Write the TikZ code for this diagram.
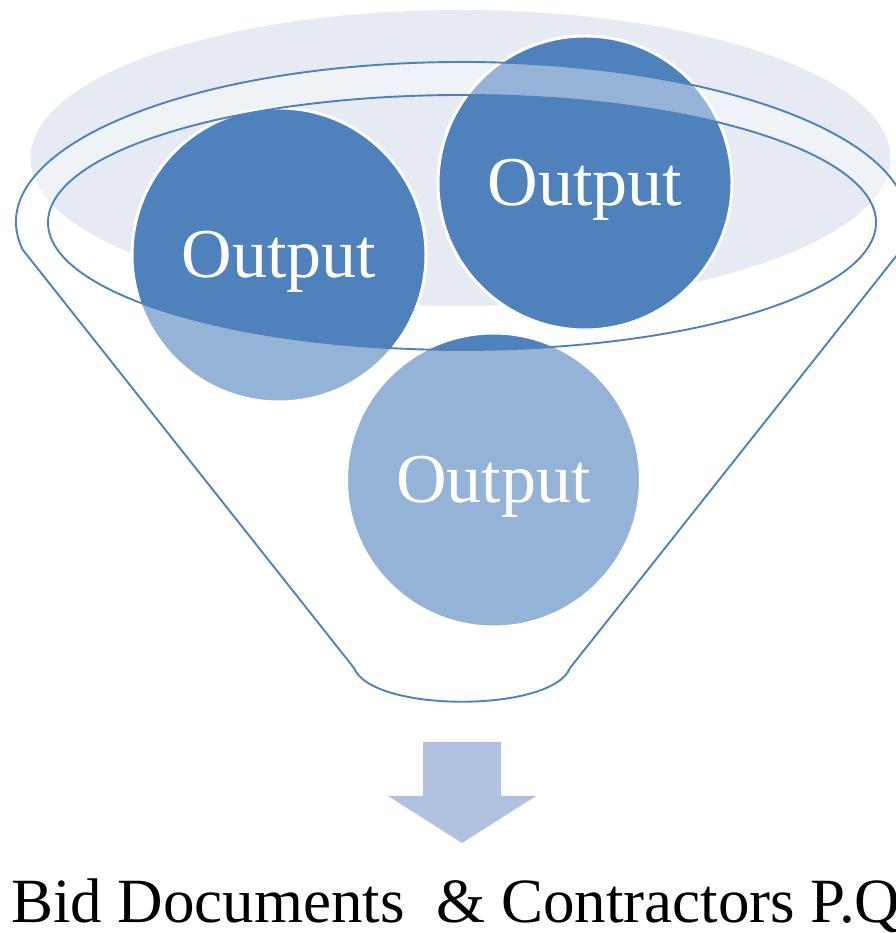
\documentclass[tikz,border=0pt]{standalone}
\usepackage{fontspec}
\setmainfont{Liberation Serif}
\usepackage{tikz}

\definecolor{funnelblue}{HTML}{4F81BD}
\definecolor{rimgray}{HTML}{E5EAF3}
\definecolor{arrowblue}{HTML}{B0C2DF}

\tikzset{
  ball/.style={circle, fill=funnelblue, draw=white, line width=3pt,
    minimum size=294pt, inner sep=0pt, text=white,
    font=\fontsize{70}{84}\selectfont, text height=45pt, text depth=0pt},
  rim/.style={draw=funnelblue, line width=1.9pt}
}

\begin{document}
\begin{tikzpicture}[x=1pt,y=1pt]
\useasboundingbox (0,0) rectangle (895,933);

\fill[rimgray] (460.5,775) ellipse [x radius=430pt, y radius=148pt];

\draw (279,678)   node (1) [ball] {Output};
\draw (585,750)   node (2) [ball] {Output};
\draw (493.5,453) node (3) [ball] {Output};

\fill[white, fill opacity=0.4, even odd rule]
  (22.78,683.22) arc [start angle=190, end angle=-10, x radius=446pt, y radius=160pt]
  -- (570,265) .. controls (552,220) and (372,220) .. (354,265) -- cycle
  (462,710.5) ellipse [x radius=414pt, y radius=127.5pt];
\draw[rim] (22.78,683.22) arc [start angle=190, end angle=-10, x radius=446pt, y radius=160pt]
  -- (570,265) .. controls (552,220) and (372,220) .. (354,265) -- cycle;
\draw[rim] (462,710.5) ellipse [x radius=414pt, y radius=127.5pt];

\fill[arrowblue] (423,191) -- (501,191) -- (501,137) -- (536,137) -- (462,90)
  -- (388,137) -- (423,137) -- cycle;

\draw (11,10) node (bid) [anchor=base west, inner sep=0pt,
  font=\fontsize{63}{76}\selectfont] {Bid Documents \ \& Contractors P.Q};

\end{tikzpicture}
\end{document}
